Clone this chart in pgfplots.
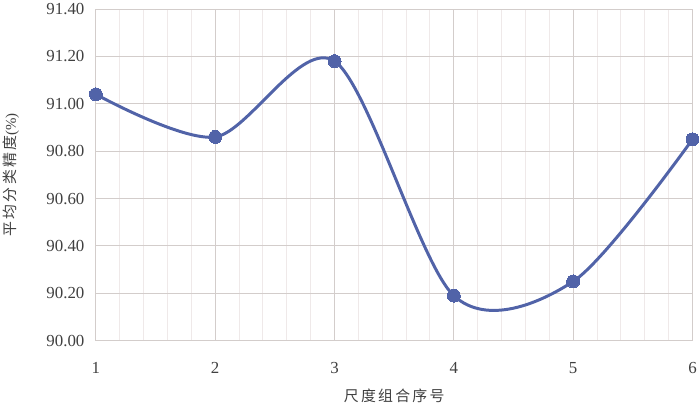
\documentclass[border=0pt]{standalone}
\usepackage{pgfplots}
\pgfplotsset{compat=1.18}
\usepackage{fontspec}
\setmainfont{Liberation Serif}
\newfontfamily\cjk[LetterSpace=15]{Noto Sans CJK SC}
\definecolor{lineblue}{HTML}{5163A8}
\definecolor{majgrid}{HTML}{D3CDCB}
\definecolor{mingrid}{HTML}{EFE9E9}
\definecolor{txt}{HTML}{404040}
\begin{document}
\begin{tikzpicture}
\begin{axis}[
  scale only axis, width=599bp, height=333bp,
  xmin=1, xmax=6, ymin=90, ymax=91.4,
  xtick={1,2,3,4,5,6},
  ytick={90.0,90.2,90.4,90.6,90.8,91.0,91.2,91.4},
  minor x tick num=4,
  grid=both,
  major grid style={draw=majgrid, line width=1bp},
  minor grid style={draw=mingrid, line width=1bp},
  axis line style={draw=majgrid, line width=1bp},
  major tick style={draw=none}, minor tick style={draw=none},
  /pgf/number format/assume math mode=true,
  y tick label style={/pgf/number format/fixed, /pgf/number format/fixed zerofill, /pgf/number format/precision=2},
  ticklabel style={font=\fontsize{17}{19}\selectfont, text=txt},
  xticklabel style={yshift=-18bp},
  yticklabel style={xshift=-8bp},
  xlabel={\cjk 尺度组合序号},
  ylabel={{\cjk 平均分类精度}(\%)},
  label style={font=\fontsize{15}{17}\selectfont, text=txt},
  xlabel style={at={(axis description cs:0.5,-0.165)}, anchor=center},
  ylabel style={at={(axis description cs:-0.142,0.5)}, anchor=center},
  clip=false,
]
\addplot[color=lineblue, line width=3bp, smooth, tension=0.5, mark=*, mark size=6.5bp,
  mark options={fill=lineblue, draw=lineblue, line width=0pt}]
  coordinates {(1,91.04) (2,90.86) (3,91.18) (4,90.19) (5,90.25) (6,90.85)};
\end{axis}
\end{tikzpicture}
\end{document}
